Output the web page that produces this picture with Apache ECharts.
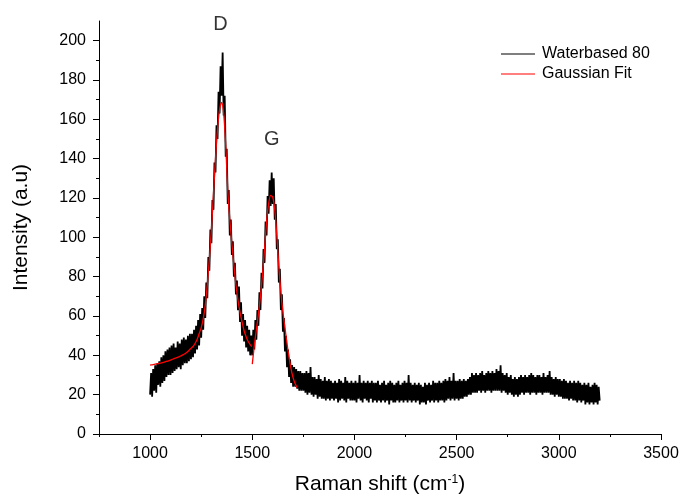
<!DOCTYPE html>
<html>
<head>
<meta charset="utf-8">
<script src="https://cdn.jsdelivr.net/npm/echarts@6/dist/echarts.min.js"></script>
<style>html,body{margin:0;padding:0;background:#fff;}#c{width:682px;height:501px;}</style>
</head>
<body>
<div id="c"></div>
<script>
// ---- data ----
const shiftStart = 1000;   // cm^-1, first sample
const shiftStep = 5;       // cm^-1 between samples
const waterbased80 = [
  20,31,19,33,22,35,21,36,25,37,24,39,26,40,27,42,29,43,30,44,
  30,45,31,46,32,44,33,47,34,46,33,48,35,49,36,48,36,50,37,51,
  38,51,39,53,41,55,43,58,45,61,49,64,53,70,59,77,69,90,83,104,
  97,119,114,138,133,157,150,174,163,187,172,194,162,172,141,145,117,124,101,109,
  91,98,80,87,71,78,63,75,57,67,50,61,47,58,44,55,42,53,40,50,
  40,53,43,58,48,63,55,72,63,82,74,94,87,108,101,121,112,129,116,133,
  117,130,109,117,94,99,77,84,63,71,52,59,42,50,34,43,29,38,26,35,
  24,34,24,33,23,32,22,32,22,31,22,31,21,32,20,31,21,34,20,29,
  19,29,20,28,18,30,19,28,18,27,18,29,17,27,18,28,17,27,18,26,
  17,27,18,26,16,28,17,27,18,26,17,29,16,27,18,26,17,27,17,26,
  17,27,16,26,18,30,17,26,16,27,18,26,17,27,16,26,18,27,16,26,
  17,26,16,27,17,25,16,26,17,27,16,25,17,26,15,27,17,26,16,25,
  16,26,17,27,16,25,17,26,16,27,17,26,16,30,17,26,16,25,17,26,
  16,25,17,26,15,25,16,24,16,26,15,25,17,26,16,25,17,27,16,26,
  17,26,16,27,17,26,17,27,16,28,17,27,18,29,17,27,18,31,17,27,
  18,27,17,28,18,27,18,28,19,27,19,28,20,29,20,31,21,30,21,31,
  21,30,22,31,21,32,22,30,21,31,22,32,22,31,21,32,22,31,22,33,
  22,32,22,35,21,31,22,30,21,31,20,29,21,30,20,28,19,29,20,28,
  19,29,20,30,21,29,20,30,21,29,21,30,20,31,21,30,21,29,20,30,
  21,30,21,29,20,31,21,29,21,30,21,32,20,29,20,28,19,29,20,28,
  19,28,19,27,18,28,18,27,18,26,17,27,18,26,17,27,17,26,16,27,
  17,26,16,25,17,26,15,25,16,26,15,24,16,25,15,26,16,25,15,24,
  17
];
const fitDShift = [1000,1010,1020,1030,1040,1050,1060,1070,1080,1090,1100,1110,1120,1130,1140,1150,1160,1170,1180,1190,
  1200,1210,1220,1230,1240,1250,1260,1270,1280,1290,1300,1310,1320,1330,1340,1350,1360,1370,1380,1390,
  1400,1410,1420,1430,1440,1450,1460,1470,1480,1490,1497];
const fitDValues = [35.0,35.2,35.4,35.6,35.8,36.0,36.3,36.6,36.9,37.2,37.6,38.0,38.4,38.8,39.2,39.7,40.2,40.8,41.6,42.5,
  43.5,44.5,46,48,51,54,58.5,65.5,76,89,104,122,140,155,165,168.6,163,147,124,109,
  97,86,76,68,62,57,52.5,49.5,47,45.5,44.4];
const fitGShift = [1500,1510,1520,1530,1540,1550,1560,1570,1580,1590,1600,1610,1620,1630,1640,1650,1660,1670,1680,1690,1700,1710,1720];
const fitGValues = [35.5,45,53,61,70,81,94,108,117,121.3,120.5,114,101,85,72,62,54,46,39,33,28.5,25.5,23.5];
const peakNames = ['D', 'G'];
const peakShift = [1344, 1595];
const peakLabelY = [208, 150];
const xMajorTicks = [1000, 1500, 2000, 2500, 3000, 3500];
const xMinorTicks = [750, 1250, 1750, 2250, 2750, 3250];
const yMajorTicks = [0, 20, 40, 60, 80, 100, 120, 140, 160, 180, 200];
const yMinorTicks = [10, 30, 50, 70, 90, 110, 130, 150, 170, 190];

// ---- chart ----
const FONT = "'Liberation Sans', Arial, sans-serif";
const chart = echarts.init(document.getElementById('c'), null, {renderer: 'canvas'});
const blackData = waterbased80.map((v, i) => [shiftStart + i * shiftStep, v]);
const fitD = fitDShift.map((x, i) => [x, fitDValues[i]]);
const fitG = fitGShift.map((x, i) => [x, fitGValues[i]]);
const peaks = peakNames.map((n, i) => ({name: n, value: [peakShift[i], peakLabelY[i]]}));
const plain = v => String(v);

const axisLineStyle = {color: '#000', width: 1};
chart.setOption({
  animation: false,
  backgroundColor: '#fff',
  textStyle: {fontFamily: FONT},
  grid: {left: 99, right: 21, top: 21, bottom: 67, containLabel: false},
  legend: {
    orient: 'vertical', left: 501, top: 45, padding: 0,
    data: [{name: 'Waterbased 80', icon: 'rect'}, {name: 'Gaussian Fit', icon: 'rect'}],
    itemWidth: 34, itemHeight: 1, itemGap: 2,
    textStyle: {fontFamily: FONT, fontSize: 16, color: '#000', lineHeight: 18, padding: [0, 0, 0, 2]}
  },
  xAxis: [{
    type: 'value', min: 750, max: 3500,
    name: 'Raman shift (cm{sup|-1})', nameLocation: 'middle', nameGap: 40,
    nameTextStyle: {fontFamily: FONT, fontSize: 21, color: '#000',
      rich: {sup: {fontFamily: FONT, fontSize: 12, color: '#000', verticalAlign: 'top', padding: [0, 0, 9, 0]}}},
    axisLine: {show: true, onZero: false, lineStyle: axisLineStyle},
    axisTick: {show: true, length: 6, customValues: xMajorTicks, lineStyle: axisLineStyle},
    axisLabel: {customValues: xMajorTicks, formatter: plain, margin: 12, fontSize: 16, color: '#000', fontFamily: FONT},
    splitLine: {show: false}
  }, {
    type: 'value', min: 750, max: 3500, position: 'bottom',
    axisLine: {show: false},
    axisTick: {show: true, length: 3, customValues: xMinorTicks, lineStyle: axisLineStyle},
    axisLabel: {show: false},
    splitLine: {show: false}
  }],
  yAxis: [{
    type: 'value', min: 0, max: 210,
    name: 'Intensity (a.u)', nameLocation: 'middle', nameGap: 67, nameRotate: 90,
    nameTextStyle: {fontFamily: FONT, fontSize: 21, color: '#000'},
    axisLine: {show: true, onZero: false, lineStyle: axisLineStyle},
    axisTick: {show: true, length: 6, customValues: yMajorTicks, lineStyle: axisLineStyle},
    axisLabel: {customValues: yMajorTicks, formatter: plain, margin: 13, fontSize: 16, color: '#000', fontFamily: FONT},
    splitLine: {show: false}
  }, {
    type: 'value', min: 0, max: 210, position: 'left', offset: 0,
    axisLine: {show: false},
    axisTick: {show: true, length: 3, customValues: yMinorTicks, lineStyle: axisLineStyle},
    axisLabel: {show: false},
    splitLine: {show: false}
  }],
  series: [{
    name: 'Waterbased 80', type: 'line', data: blackData,
    symbol: 'none', lineStyle: {color: '#000', width: 1.8}, itemStyle: {color: '#000'}, z: 2
  }, {
    name: 'Gaussian Fit', type: 'line', data: fitD, smooth: 0.3,
    symbol: 'none', lineStyle: {color: '#ff0000', width: 1.3}, itemStyle: {color: '#ff0000'}, z: 3
  }, {
    name: 'Gaussian Fit', type: 'line', data: fitG, smooth: 0.3,
    symbol: 'none', lineStyle: {color: '#ff0000', width: 1.3}, itemStyle: {color: '#ff0000'}, z: 3
  }, {
    name: 'peaks', type: 'scatter', data: peaks, symbolSize: 1,
    itemStyle: {color: 'rgba(0,0,0,0)'}, silent: true, clip: false,
    label: {show: true, position: 'inside', formatter: '{b}', fontFamily: FONT, fontSize: 20, color: '#000'}
  }]
});
</script>
</body>
</html>
